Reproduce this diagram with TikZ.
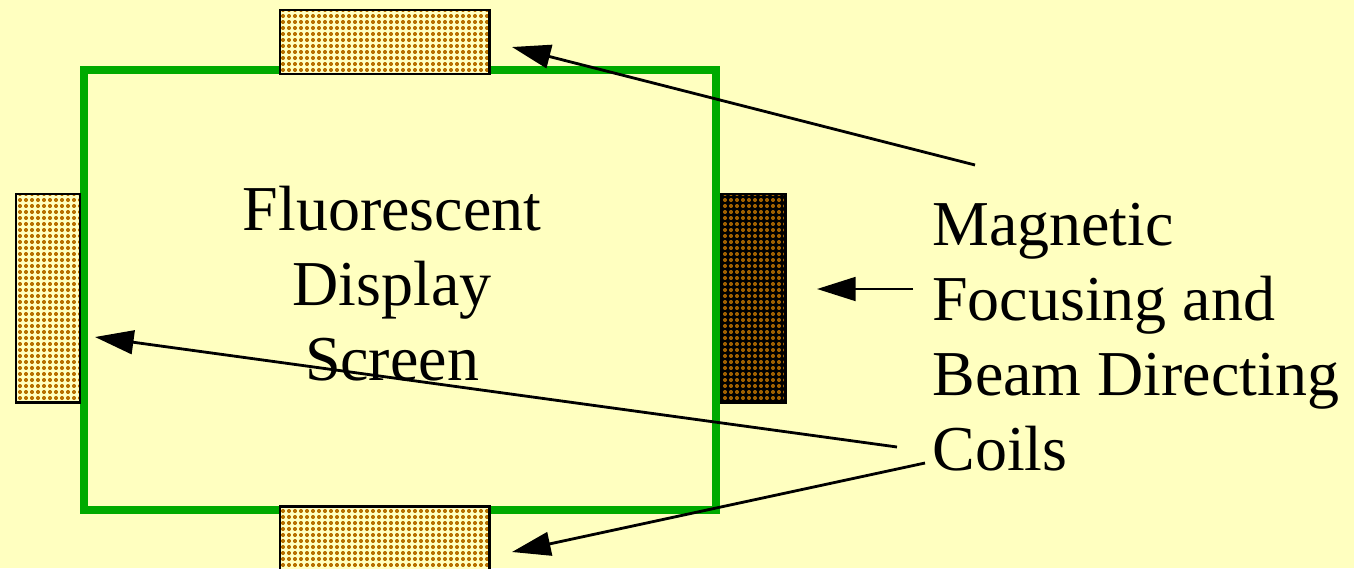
\documentclass[tikz,border=0pt]{standalone}
\usepackage{fontspec}
\setmainfont{Liberation Serif}
\usetikzlibrary{arrows.meta,patterns.meta}
\definecolor{bg}{RGB}{255,255,192}
\definecolor{screengreen}{RGB}{0,170,0}
\definecolor{dotbrown}{RGB}{184,112,0}
\definecolor{darkdot}{RGB}{160,96,0}
\tikzdeclarepattern{name=coildots,type=uncolored,
  bounding box={(0,0) and (3.4pt,3.4pt)},tile size={(3.4pt,3.4pt)},
  code={\fill (1.1pt,0.6pt) rectangle (2.3pt,2.8pt);
        \fill (0.6pt,1.1pt) rectangle (2.8pt,2.3pt);}}
\begin{document}
\begin{tikzpicture}[x=0.02cm,y=-0.02cm,
  coil/.style={draw=black,line width=1.7pt,pattern={coildots},pattern color=dotbrown},
  darkcoil/.style={draw=black,line width=1.7pt,pattern={coildots},pattern color=darkdot},
  txt/.style={font=\fontsize{36.4}{42.7}\selectfont,inner sep=0pt},
  arr/.style={line width=1.6pt,-{Triangle[length=22pt,width=13.5pt]}}]
\fill[bg] (0,0) rectangle (1354,568);
\useasboundingbox (0,0) rectangle (1354,568);
% screen
\draw[screengreen,line width=4.6pt] (84,70) rectangle (716,510);
% coils
\fill[bg] (280,10) rectangle (489,74);
\draw[coil] (280,10) rectangle (489,74);
\fill[bg] (280,506) rectangle (489,580);
\draw[coil] (280,506) rectangle (489,580);
\fill[bg] (16,194) rectangle (80,402);
\draw[coil] (16,194) rectangle (80,402);
\fill[black] (721,194) rectangle (785,402);
\draw[darkcoil] (721,194) rectangle (785,402);
\node (topcoil) at (384.5,42) {};
\node (botcoil) at (384.5,537) {};
\node (leftcoil) at (48,298) {};
\node (rightcoil) at (753,298) {};
% screen label
\node[txt,anchor=base] (l1) at (392,230) {Fluorescent};
\node[txt,anchor=base] (l2) at (392,305) {Display};
\node[txt,anchor=base] (l3) at (392,380) {Screen};
% coil label
\node[txt,anchor=base west] (m1) at (932,245) {Magnetic};
\node[txt,anchor=base west] (m2) at (932,320) {Focusing and};
\node[txt,anchor=base west] (m3) at (932,395) {Beam Directing};
\node[txt,anchor=base west] (m4) at (932,470) {Coils};
% arrow coordinates
\coordinate (s1) at (975,165);
\coordinate (t1) at (512,47);
\coordinate (s2) at (913,289);
\coordinate (t2) at (817,289);
\coordinate (s3) at (897,447);
\coordinate (t3) at (95,337);
\coordinate (s4) at (925,463);
\coordinate (t4) at (512,552);
\draw[arr] (s1) -- (t1);
\draw[arr] (s2) -- (t2);
\draw[arr] (s3) -- (t3);
\draw[arr] (s4) -- (t4);
\end{tikzpicture}
\end{document}
